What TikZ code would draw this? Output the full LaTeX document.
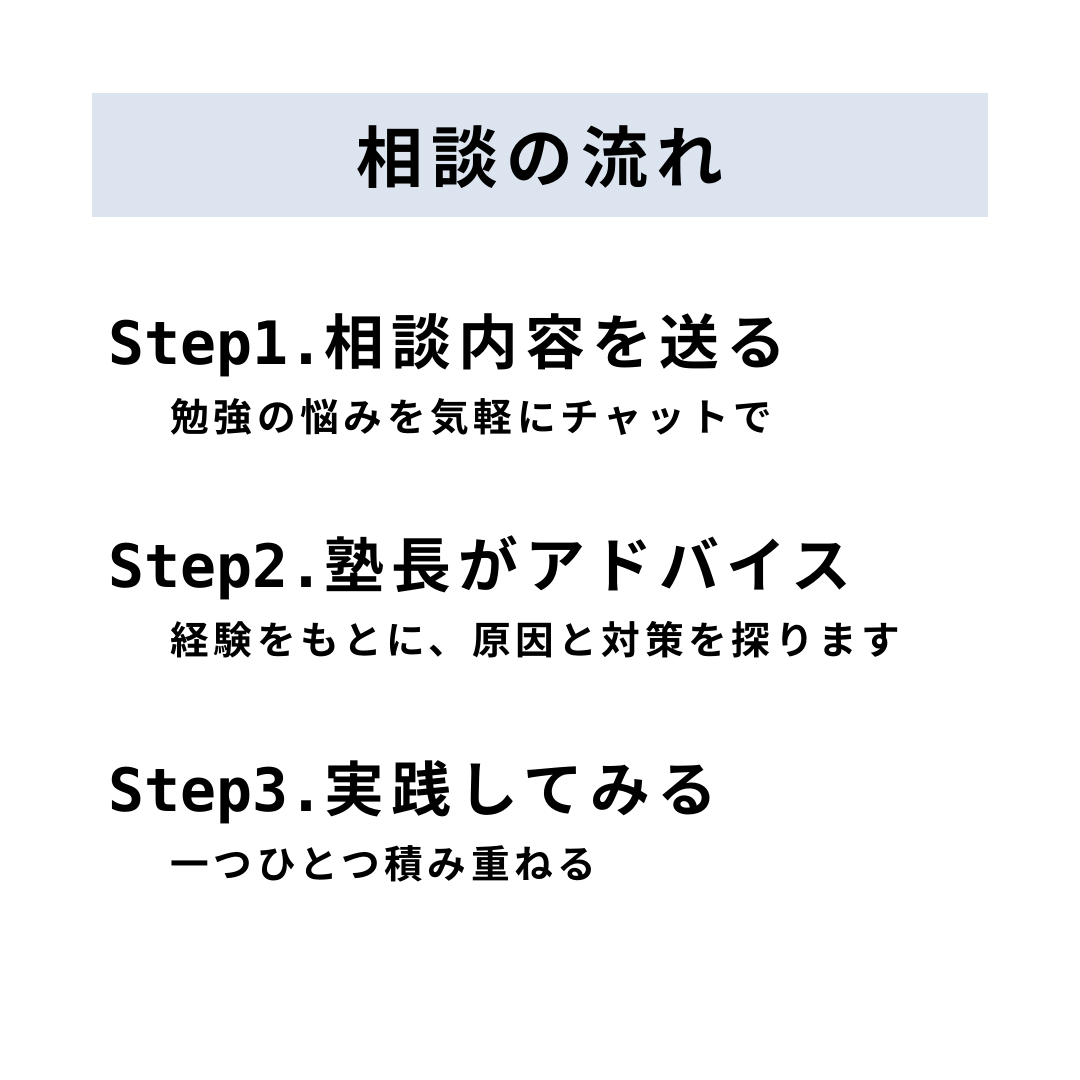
\documentclass[tikz,border=0pt]{standalone}
\usepackage{fontspec}
\setmainfont{Noto Sans CJK JP}[BoldFont={* Bold}]
\newfontfamily\jpbold{Noto Sans CJK JP Bold}[LetterSpace=12]
\newfontfamily\stepfont{DejaVu Sans Mono}[BoldFont={* Bold}]
\definecolor{titlebg}{HTML}{DCE4EF}
\newcommand{\stepline}[2]{{\stepfont\bfseries #1}{\jpbold #2}}

\begin{document}
\begin{tikzpicture}[x=0.01cm,y=-0.01cm]
  \tikzset{steptext/.style={anchor=west,inner sep=0pt,font=\fontsize{17pt}{20pt}\selectfont},
           subtext/.style={anchor=west,inner sep=0pt,font=\jpbold\fontsize{11pt}{13pt}\selectfont}}
  \useasboundingbox (0,0) rectangle (1080,1080);
  \fill[titlebg] (92,93) rectangle (988,217);
  \node[inner sep=0pt,font=\jpbold\fontsize{19pt}{22pt}\selectfont] (title) at (540,157) {相談の流れ};
  % steps
  \node[steptext] (step1) at (108,345) {\stepline{Step1.}{相談内容を送る}};
  \node[subtext] (sub1) at (170,417) {勉強の悩みを気軽にチャットで};
  \node[steptext] (step2) at (108,568) {\stepline{Step2.}{塾長がアドバイス}};
  \node[subtext] (sub2) at (170,640) {経験をもとに、原因と対策を探ります};
  \node[steptext] (step3) at (108,792) {\stepline{Step3.}{実践してみる}};
  \node[subtext] (sub3) at (170,864) {一つひとつ積み重ねる};
\end{tikzpicture}
\end{document}
